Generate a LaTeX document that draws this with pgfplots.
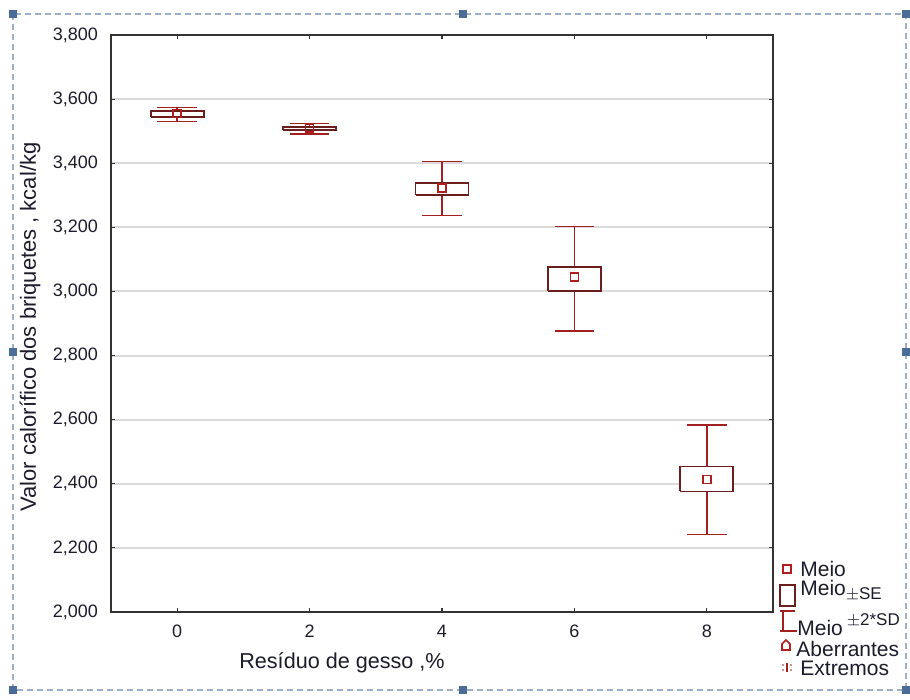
\documentclass[border=0pt]{standalone}
\usepackage{pgfplots}
\pgfplotsset{compat=1.18}
\usepackage{fontspec}
\setmainfont{Liberation Sans}
\definecolor{whisk}{HTML}{A32020}
\definecolor{boxc}{HTML}{6A1E1E}
\definecolor{meanc}{HTML}{B01E1E}
\definecolor{txt}{HTML}{1C1C2C}
\definecolor{selb}{HTML}{9DB0C8}
\definecolor{handle}{HTML}{4A6C96}

\begin{document}
\begin{tikzpicture}
\begin{axis}[at={(55.5pt,44pt)},anchor=south west,scale only axis,
  width=331pt,height=288.5pt,
  xmin=-1,xmax=9,ymin=2000,ymax=3800,
  xtick={0,2,4,6,8},ytick={2000,2200,...,3800},
  tick align=inside,major tick length=2pt,
  ymajorgrids,grid style={line width=1pt,black!14},
  axis line style={line width=0.9pt,black!80},
  tick style={black!80,line width=0.6pt},
  tick label style={font=\fontsize{9}{10}\selectfont,text=txt},
  /pgf/number format/assume math mode=true,
  /pgf/number format/1000 sep={,},
  yticklabel style={xshift=-3pt},
  xticklabel style={yshift=-3pt},
  boxst/.style={draw=boxc,fill=white,line width=0.85pt}]
% whiskers: mean, upper whisker, lower whisker (mean +- 2 SD)
\addplot[draw=none,mark=none,
  error bars/.cd,y dir=both,y explicit,error mark=none,
  error bar style={draw=whisk,line width=0.8pt}]
  coordinates {
  (0,3555) += (0,19) -= (0,25)
  (2,3509) += (0,15) -= (0,18)
  (4,3322) += (0,83) -= (0,85)
  (6,3045) += (0,158) -= (0,168)
  (8,2413) += (0,171) -= (0,171)};
% whisker caps
\addplot[draw=none,mark=none,
  error bars/.cd,x dir=both,x fixed=0.3,error mark=none,
  error bar style={draw=whisk,line width=0.8pt}]
  coordinates {(0,3574) (0,3530) (2,3524) (2,3491) (4,3405) (4,3237)
  (6,3203) (6,2877) (8,2584) (8,2242)};
% boxes: mean +- SE
\addplot[boxst] coordinates {(-0.4,3545) (0.4,3545) (0.4,3563) (-0.4,3563) (-0.4,3545)};
\addplot[boxst] coordinates {(1.6,3504) (2.4,3504) (2.4,3514) (1.6,3514) (1.6,3504)};
\addplot[boxst] coordinates {(3.6,3300) (4.4,3300) (4.4,3338) (3.6,3338) (3.6,3300)};
\addplot[boxst] coordinates {(5.6,3002) (6.4,3002) (6.4,3076) (5.6,3076) (5.6,3002)};
\addplot[boxst] coordinates {(7.6,2376) (8.4,2376) (8.4,2454) (7.6,2454) (7.6,2376)};
% means
\addplot[only marks,mark=square,mark size=2pt,mark options={draw=meanc,line width=0.8pt}]
  coordinates {(0,3555) (2,3509) (4,3322) (6,3045) (8,2413)};
\end{axis}

\begin{scope}[x=0.5pt,y=-0.5pt,yshift=350pt]
\useasboundingbox (0,0) rectangle (910,700);
% selection frame
\draw[selb,densely dashed,line width=0.6pt] (13,14) rectangle (906,690);
\foreach \p in {(13,14),(463,14),(906,14),(13,352),(906,352),(13,690),(463,690),(906,690)}
  \fill[handle] \p ++(-4,-4) rectangle ++(8,8);

% axis titles
\node[font=\fontsize{10.8}{12}\selectfont,text=txt] at (342,663) {Resíduo de gesso ,\%};
\node[font=\fontsize{11}{12}\selectfont,text=txt,rotate=90] at (30,327) {Valor calorífico dos briquetes , kcal/kg};

% legend
\begin{scope}[font=\fontsize{10.5}{12}\selectfont]
\draw[meanc,line width=0.8pt] (783,565) rectangle (791,573);
\node[anchor=west,text=txt,inner sep=0] at (800,569) {Meio};
\draw[boxc,line width=1pt] (780,585) rectangle (795,606);
\node[anchor=west,text=txt,inner sep=0] at (800,591) {Meio\raisebox{-2pt}{\fontsize{8.5}{9}\selectfont$\pm$SE}};
\draw[whisk,line width=0.8pt] (780,611) -- (795,611) (783,611) -- (783,631) (780,631) -- (797,631);
\node[anchor=west,text=txt,inner sep=0] at (797,625) {Meio\hspace{2pt}\raisebox{5pt}{\fontsize{8.5}{9}\selectfont$\pm$2*SD}};
\draw[meanc,line width=0.8pt] (782,650) -- (782,644) -- (786,640) -- (790,644) -- (790,650) -- cycle;
\node[anchor=west,text=txt,inner sep=0] at (796,649) {Aberrantes};
\draw[whisk,line width=0.7pt] (787,663) -- (787,672);
\fill[whisk] (783,665) circle[radius=0.9] (783,670) circle[radius=0.9] (791,665) circle[radius=0.9] (791,670) circle[radius=0.9];
\node[anchor=west,text=txt,inner sep=0] at (800,668) {Extremos};
\end{scope}
\end{scope}
\end{tikzpicture}
\end{document}
